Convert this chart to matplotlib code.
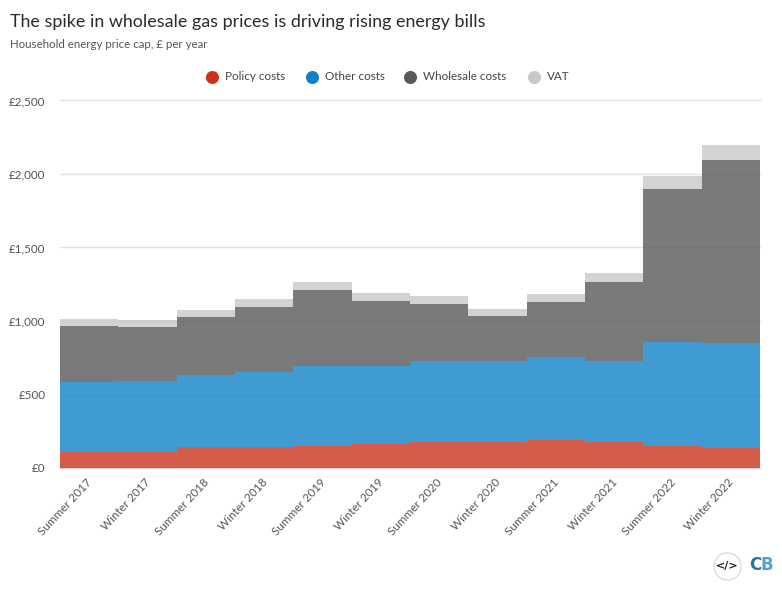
import numpy as np
import matplotlib
matplotlib.use('Agg')
import matplotlib.pyplot as plt
from matplotlib.transforms import ScaledTranslation

plt.rcParams['font.family'] = ['Lato', 'DejaVu Sans']

periods = ['Summer 2017', 'Winter 2017', 'Summer 2018', 'Winter 2018',
           'Summer 2019', 'Winter 2019', 'Summer 2020', 'Winter 2020',
           'Summer 2021', 'Winter 2021', 'Summer 2022', 'Winter 2022']

# amounts per layer, pounds per year
policy = [110, 108, 140, 140, 153, 165, 178, 178, 192, 178, 153, 138]
other = [475, 482, 490, 515, 544, 532, 547, 552, 563, 550, 705, 712]
wholesale = [383, 370, 400, 440, 515, 438, 390, 305, 375, 540, 1042, 1247]
vat = [47, 45, 48, 57, 56, 57, 57, 50, 55, 60, 88, 100]

series_names = ['Policy costs', 'Other costs', 'Wholesale costs', 'VAT']
series_colors = ['#c8331e', '#0f82c7', '#595959', '#c8c8c8']

y_ticks = [0, 500, 1000, 1500, 2000, 2500]
y_labels = ['£0', '£500', '£1,000', '£1,500', '£2,000', '£2,500']

W, H = 782, 600
small = 8.4
fig = plt.figure(figsize=(W / 100, H / 100), dpi=100)
ax = fig.add_axes([60 / W, (H - 468) / H, 700 / W, 367.5 / H])

edges = np.arange(len(periods) + 1) - 0.5
base = np.zeros(len(periods))
for vals, col in zip([policy, other, wholesale, vat], series_colors):
    top = base + np.array(vals)
    ax.stairs(top, edges, baseline=base, fill=True, color=col, alpha=0.8,
              linewidth=0, zorder=3)
    base = top

ax.set_xlim(edges[0], edges[-1])
ax.set_ylim(0, 2500)
ax.set_yticks(y_ticks)
ax.set_yticklabels(y_labels, fontsize=small, color='#555555')
ax.set_xticks(np.arange(len(periods)))
ax.set_xticklabels(periods, rotation=47, ha='right', rotation_mode='anchor',
                   fontsize=small, color='#555555')
ax.tick_params(axis='both', length=0)
ax.tick_params(axis='x', pad=6)
ax.tick_params(axis='y', pad=10.5)
# nudge the slanted labels left, they end just under the step centres
shift = ScaledTranslation(-3 / 100, 0, fig.dpi_scale_trans)
for lab in ax.get_xticklabels():
    lab.set_transform(lab.get_transform() + shift)
ax.grid(axis='y', color='#e4e4e4', linewidth=1, zorder=1)
ax.set_axisbelow(True)
# top gridline sits on the axes edge, keep it from being clipped
for line in ax.get_ygridlines():
    line.set_clip_on(False)
for s in ['top', 'right', 'left']:
    ax.spines[s].set_visible(False)
ax.spines['bottom'].set_color('#ccd6eb')
ax.spines['bottom'].set_linewidth(1)

fig.text(10 / W, 1 - 22 / H, 'The spike in wholesale gas prices is driving rising energy bills',
         fontsize=12.85, color='#2b2b2b', va='center', ha='left')
fig.text(10 / W, 1 - 44 / H, 'Household energy price cap, £ per year',
         fontsize=8.25, color='#555555', va='center', ha='left')

# legend placed by hand, centred above the plot
legend_x = [212, 312, 410, 533.5]
for name, col, lx in zip(series_names, series_colors, legend_x):
    fig.text((lx + 13) / W, 1 - 77 / H, name, fontsize=small, color='#444444',
             va='center', ha='left')
    fig.add_artist(plt.Line2D([lx / W], [1 - 77 / H], marker='o', markersize=9.4,
                              color=col, markeredgewidth=0, linestyle='none',
                              transform=fig.transFigure))

# embed badge and CB logo
fig.add_artist(plt.Line2D([727 / W], [1 - 566 / H], marker='o', markersize=19.5,
                          markerfacecolor='white', markeredgecolor='#dccfd2',
                          markeredgewidth=0.8, linestyle='none',
                          transform=fig.transFigure))
fig.text(727 / W, 1 - 566 / H, '</>', fontsize=8, fontweight='bold', color='#222222',
         family='DejaVu Sans', va='center', ha='center')
fig.text(749 / W, 1 - 565.5 / H, 'C', fontsize=12, fontweight='bold', color='#2f6f99',
         family='Liberation Sans Narrow', va='center', ha='left')
fig.text(760 / W, 1 - 565.5 / H, 'B', fontsize=12, fontweight='bold', color='#4fa3d8',
         family='Liberation Sans Narrow', va='center', ha='left')

fig.savefig('out.png', dpi=100)
